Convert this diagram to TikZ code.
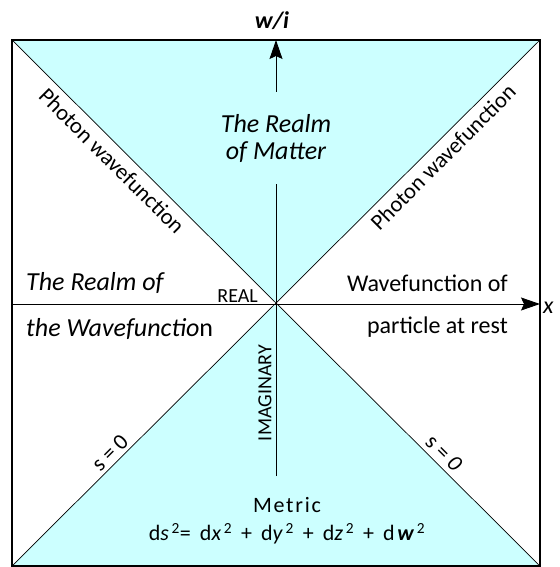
\documentclass[tikz,border=0pt]{standalone}
\usepackage{fontspec}
\setmainfont{Carlito}
\usetikzlibrary{arrows.meta,positioning}
\definecolor{matter}{HTML}{CCFFFF}
\newcommand{\sq}{\textsuperscript{2}}
\newcommand{\gap}{\hspace{9pt}}

\begin{document}
\begin{tikzpicture}[
  x=1pt,y=-1pt,
  every node/.style={align=center,inner sep=0pt},
  big/.style={font=\fontsize{26}{26}\selectfont},
  diag/.style={font=\fontsize{22.5}{24}\selectfont},
  tag/.style={font=\fontsize{20}{22}\selectfont},
  axis/.style={-{Stealth[length=19pt,width=13pt,inset=3pt]},line width=1pt},
]
\useasboundingbox (0,0) rectangle (559,567);
\coordinate (tl) at (12,40);
\coordinate (tr) at (540,40);
\coordinate (bl) at (12,566);
\coordinate (br) at (540,566);
\coordinate (o) at (276,303);

% light cone regions
\fill[matter] (tl) -- (tr) -- (o) -- cycle;
\fill[matter] (bl) -- (br) -- (o) -- cycle;
\draw[line width=0.7pt] (tl) -- (br) (tr) -- (bl);
\draw[line width=1.2pt] (tl) rectangle (br);

% axes
\coordinate (wtop) at (276,40);
\coordinate (wbot) at (276,476);
\coordinate (xleft) at (12,304);
\coordinate (xright) at (540,304);
\draw[axis] (wbot) -- (wtop);
\draw[axis] (xleft) -- (xright);
\node[font=\fontsize{24}{26}\selectfont\bfseries\itshape] (wlbl) at (272,21) {w/i};
\node[font=\fontsize{24}{26}\selectfont\itshape,anchor=west] (xlbl) at (543,308) {x};

\node[fill=matter,inner xsep=4pt,inner ysep=22pt,font=\fontsize{26}{27}\selectfont\itshape] (matter) at (276,138) {The Realm\\of Matter};
\node[big,anchor=west] (realm1) at (26,283) {\itshape The Realm of};
\node[big,anchor=west] (realm2) at (26,329) {\textit{the Wavefunctio}n};
\node[tag,anchor=east] (real) at (258,296) {REAL};
\node[tag,rotate=90] (imag) at (265,393) {IMAGINARY};
\node[font=\fontsize{24}{26}\selectfont,anchor=east] (rest1) at (508,283) {Wavefunction of};
\node[font=\fontsize{24}{26}\selectfont,anchor=east] (rest2) at (508,327) {particle at rest};

\node[diag,rotate=-45] (photonL) at (112,161) {Photon wavefunction};
\node[diag,rotate=45] (photonR) at (443,157) {Photon wavefunction};
\node[diag,rotate=45] (sL) at (110,453) {s = 0};
\node[diag,rotate=-45] (sR) at (444,453) {s = \textit{0}};

\node[font=\fontsize{22}{24}\selectfont] (metric) at (287,505) {\addfontfeature{LetterSpace=8}Metric};
\node[font=\fontsize{22}{24}\selectfont,below=10pt of metric] (ds) {\addfontfeature{LetterSpace=12}d\textit{s}\sq=\gap d\textit{x}\sq\gap+\gap d\textit{y}\sq\gap+\gap d\textit{z}\sq\gap+\gap d\textbf{\textit{w}}\sq};
\end{tikzpicture}
\end{document}
